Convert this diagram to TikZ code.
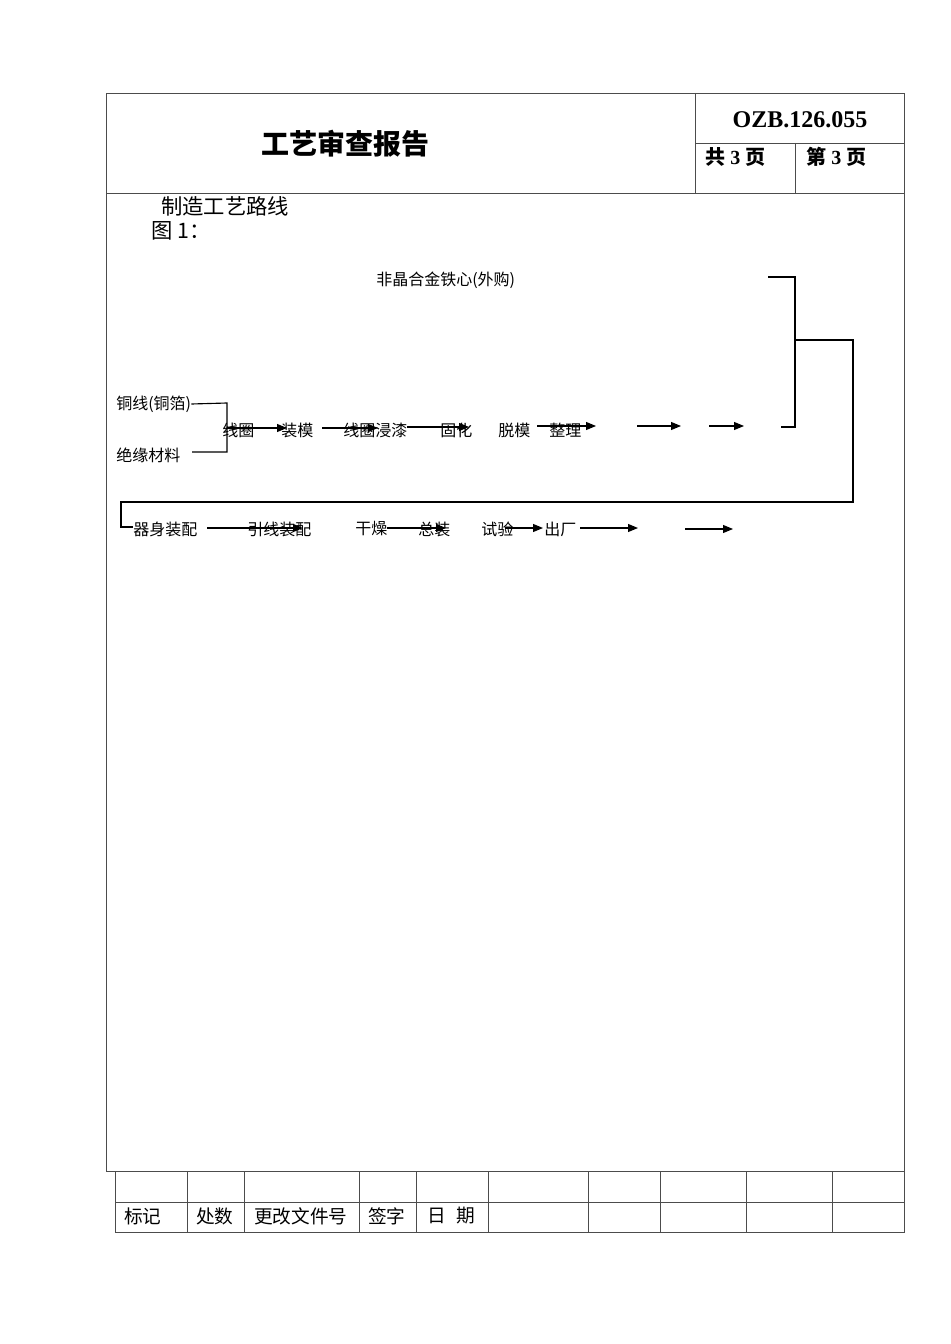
\documentclass[tikz,border=0pt]{standalone}
\usepackage{fontspec}
\setmainfont{Liberation Serif}
\newfontfamily\cjk{Noto Sans CJK SC}
\usetikzlibrary{arrows.meta}

\tikzset{
    frame/.style = {line width = 0.7pt, draw = black!70},
    wire/.style = {line width = 0.85pt},
    flow/.style = {wire, -{Triangle[length = 7.5pt, width = 6pt]}},
    lbl/.style = {font = \cjk\fontsize{12}{14}\selectfont, inner sep = 0pt, anchor = west},
    cell/.style = {font = \cjk\fontsize{14}{16}\selectfont, inner sep = 0pt, anchor = west}
}

\begin{document}
\begin{tikzpicture}[x = 0.75pt, y = -0.75pt]
        \useasboundingbox (0, 0) rectangle (950, 1344);
        % frame and header
        \draw[frame] (106, 93) rectangle (904, 1171);
        \draw[frame] (106, 193) -- (904, 193);
        \draw[frame] (695, 93) -- (695, 193);
        \draw[frame] (695, 143) -- (904, 143);
        \draw[frame] (795, 143) -- (795, 193);
        \node[font = \cjk\bfseries\fontsize{21}{24}\selectfont] (title) at (345, 144) {工艺审查报告};
        \node[font = \bfseries\fontsize{18}{20}\selectfont] (docno) at (800, 120) {OZB.126.055};
        \node[font = \bfseries\fontsize{15}{18}\selectfont, inner sep = 0pt, anchor = west] (total) at (705, 157) {{\cjk 共} 3 {\cjk 页}};
        \node[font = \bfseries\fontsize{15}{18}\selectfont, inner sep = 0pt, anchor = west] (page) at (806, 157) {{\cjk 第} 3 {\cjk 页}};
        \node[font = \cjk\fontsize{16}{18}\selectfont, inner sep = 0pt, anchor = west] (route) at (161, 206) {制造工艺路线};
        \node[font = \cjk\fontsize{16}{18}\selectfont, inner sep = 0pt, anchor = west] (fig) at (151, 231) {图 1：};
        % first row
        \node[lbl] (core) at (376, 280) {非晶合金铁心(外购)};
        \node[lbl] (copper) at (116, 404) {铜线(铜箔)};
        \node[lbl] (insul) at (116, 455) {绝缘材料};
        \node[lbl] (coil) at (222, 430) {线圈};
        \node[lbl] (mold) at (281, 430) {装模};
        \node[lbl] (dip) at (343, 430) {线圈浸漆};
        \node[lbl] (cure) at (440, 430) {固化};
        \node[lbl] (demold) at (498, 430) {脱模};
        \node[lbl] (trim) at (549, 430) {整理};
        \coordinate (join) at (227, 428);
        \draw[wire] (copper.east) -- (227, 403) -- (227, 452) -- (192, 452);
        \draw[flow] (join) -- (287, 428);
        \draw[flow] (322, 428) -- (378, 428);
        \draw[flow] (407, 427) -- (469, 427);
        \draw[flow] (537, 426) -- (596, 426);
        \draw[flow] (637, 426) -- (681, 426);
        \draw[flow] (709, 426) -- (744, 426);
        \coordinate (merge) at (795, 340);
        \draw[wire] (768, 277) -| (795, 427) -- (781, 427);
        \draw[wire] (merge) -| (853, 502) -| (121, 527) -- (133, 527);
        % second row
        \node[lbl] (body) at (133, 529) {器身装配};
        \node[lbl] (lead) at (247, 529) {引线装配};
        \node[lbl] (dry) at (355, 529) {干燥};
        \node[lbl] (final) at (418, 529) {总装};
        \node[lbl] (test) at (481, 529) {试验};
        \node[lbl] (ship) at (544, 529) {出厂};
        \draw[flow] (207, 528) -- (303, 528);
        \draw[flow] (387, 528) -- (446, 528);
        \draw[flow] (505, 528) -- (543, 528);
        \draw[flow] (580, 528) -- (638, 528);
        \draw[flow] (685, 529) -- (733, 529);
        % change table
        \draw[frame] (115, 1171) rectangle (904, 1232);
        \draw[frame] (115, 1202) -- (904, 1202);
        \foreach \x in {187, 244, 359, 416, 488, 588, 660, 746, 832}
            \draw[frame] (\x, 1171) -- (\x, 1232);
        \node[cell] (mark) at (124, 1216) {标记};
        \node[cell] (count) at (196, 1216) {处数};
        \node[cell] (docchg) at (254, 1216) {更改文件号};
        \node[cell] (sign) at (368, 1216) {签字};
        \node[cell] (date) at (427, 1216) {日\hspace{0.55em}期};
    \end{tikzpicture}
\end{document}
